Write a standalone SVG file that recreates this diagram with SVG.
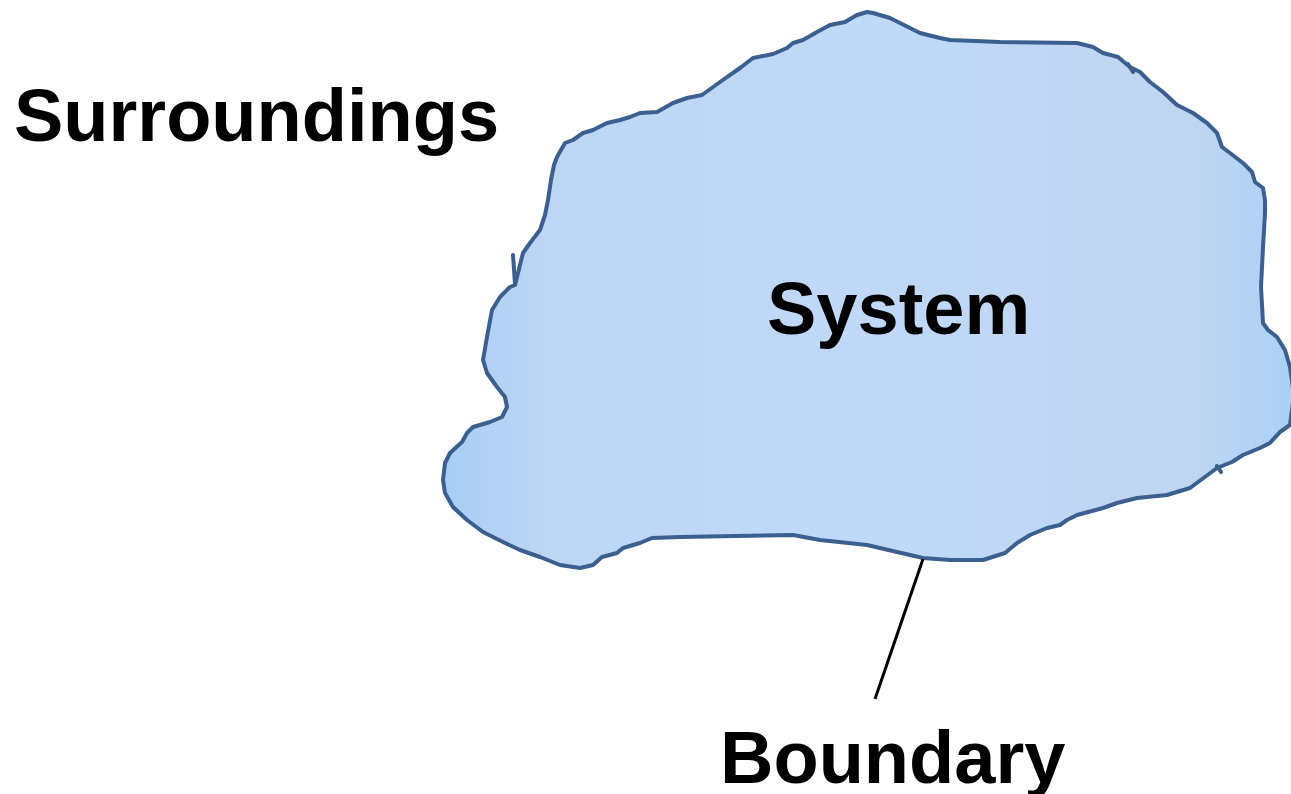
<svg xmlns="http://www.w3.org/2000/svg" width="1291" height="794" viewBox="0 0 1291 794">
<style>
.lbl{font-family:"Liberation Sans",Arial,sans-serif;font-weight:bold;font-size:74px;fill:#000}
.edge{fill:none;stroke:#3B5F8E;stroke-width:4;stroke-linejoin:round;stroke-linecap:round}
.leader{stroke:#000;stroke-width:3;fill:none}
</style>
<defs>
<linearGradient id="gx" x1="0" y1="0" x2="1" y2="0">
<stop offset="0" stop-color="#A8CDF6"/>
<stop offset="0.12" stop-color="#BDD6F3"/>
<stop offset="0.5" stop-color="#C0D9F9"/>
<stop offset="0.88" stop-color="#BFD6F1"/>
<stop offset="1" stop-color="#ABD0F6"/>
</linearGradient>
</defs>
<rect width="1291" height="794" fill="#fff"/>
<g id="system">
<path class="edge" fill="url(#gx)" style="fill:url(#gx)" d="M857,15 L867,12 873,13 890,18 900,23 910,28 920,33 940,38 950,40 1000,42 1077,43 1093,47 1103,53 1118,57 1130,67 1140,72 1150,82 1163,92 1177,105 1193,113 1207,123 1217,133 1222,147 1230,153 1243,163 1252,172 1255,182 1263,188 1265,200 1265,213 1263,247 1261,287 1263,323 1268,330 1277,337 1285,350 1290,367 1294,395 1290,425 1280,432 1270,443 1260,448 1243,455 1232,462 1217,468 1190,488 1167,495 1137,498 1117,503 1103,508 1077,515 1067,520 1060,525 1047,528 1030,535 1017,543 1005,553 983,560 950,560 923,558 897,552 867,545 820,540 793,535 680,537 652,538 640,543 623,548 617,553 602,557 593,565 580,568 560,565 540,557 520,550 503,542 483,532 467,520 453,507 445,493 443,480 445,463 450,453 462,442 467,433 473,427 490,422 502,417 507,407 505,397 497,387 487,373 483,360 487,337 492,310 500,297 510,287 515,285 518,273 523,253 530,243 540,230 545,215 548,200 551,180 554,165 557,157 565,143 573,140 583,133 593,130 607,123 620,120 630,117 640,113 657,112 673,103 687,98 702,95 720,82 740,68 753,58 773,54 787,48 793,43 803,40 817,32 830,25 845,22 Z"/>
<path class="edge" d="M513,255 L515,284 M1128,64 L1133,72 M1217,466 L1221,472"/>
<text class="lbl" x="767" y="334">System</text>
</g>
<g id="surroundings">
<text class="lbl" x="14" y="141">Surroundings</text>
</g>
<g id="boundary">
<text class="lbl" x="720" y="783">Boundary</text>
</g>
<g id="connectors">
<line class="leader" x1="923" y1="559" x2="875" y2="699"/>
</g>
</svg>
